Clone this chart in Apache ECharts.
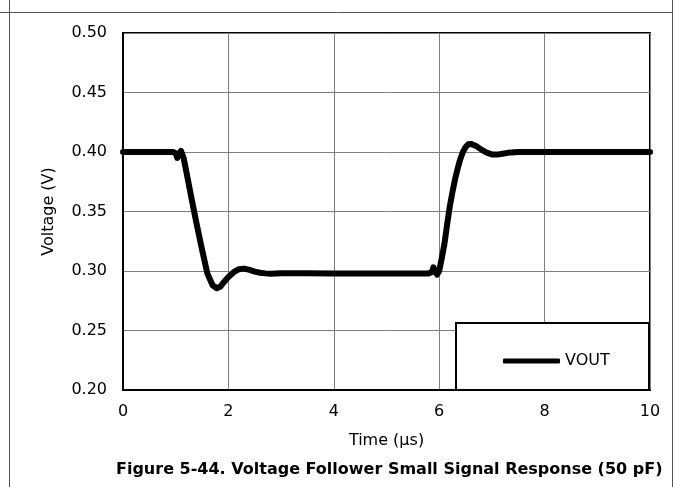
<!DOCTYPE html>
<html>
<head>
<meta charset="utf-8">
<script src="https://cdn.jsdelivr.net/npm/echarts@6/dist/echarts.min.js"></script>
<style>
html,body{margin:0;padding:0;background:#fff;}
#chart{width:678px;height:487px;}
</style>
</head>
<body>
<div id="chart"></div>
<script>
var timeUs = [0, 0.5, 0.95, 1.0, 1.03, 1.06, 1.1, 1.15, 1.2, 1.3, 1.4, 1.5, 1.6, 1.7, 1.78, 1.85, 1.92, 2.0, 2.1, 2.2, 2.3, 2.4, 2.5, 2.6, 2.7, 2.8, 3.0, 3.5, 4.0, 4.5, 5.0, 5.5, 5.8, 5.86, 5.89, 5.92, 5.96, 6.0, 6.05, 6.1, 6.15, 6.2, 6.25, 6.3, 6.35, 6.4, 6.45, 6.5, 6.55, 6.6, 6.65, 6.7, 6.8, 6.9, 7.0, 7.1, 7.2, 7.3, 7.5, 8.0, 9.0, 10];
var vout = [0.400, 0.400, 0.400, 0.399, 0.395, 0.398, 0.401, 0.395, 0.384, 0.361, 0.339, 0.318, 0.298, 0.288, 0.2855, 0.287, 0.291, 0.295, 0.299, 0.3015, 0.302, 0.301, 0.2995, 0.2985, 0.298, 0.2977, 0.2982, 0.2982, 0.298, 0.298, 0.298, 0.298, 0.298, 0.299, 0.303, 0.300, 0.297, 0.300, 0.311, 0.323, 0.339, 0.354, 0.366, 0.377, 0.386, 0.394, 0.400, 0.404, 0.4065, 0.4068, 0.406, 0.405, 0.402, 0.3995, 0.398, 0.3978, 0.3985, 0.3993, 0.400, 0.400, 0.400, 0.400];
var xTicks = [0, 2, 4, 6, 8, 10];
var yTicks = [0.20, 0.25, 0.30, 0.35, 0.40, 0.45, 0.50];
var seriesName = 'VOUT';
var xName = 'Time (\u00b5s)';
var yName = 'Voltage (V)';
var caption = 'Figure 5-44. Voltage Follower Small Signal Response (50 pF)';

var pts = timeUs.map(function (t, i) { return [t, vout[i]]; });
var font = '"DejaVu Sans", "Liberation Sans", Arial, sans-serif';

var chart = echarts.init(document.getElementById('chart'));
chart.setOption({
  animation: false,
  backgroundColor: '#fff',
  textStyle: { fontFamily: font },
  grid: { left: 123, right: 28, top: 33, bottom: 97, show: true, borderColor: '#000', borderWidth: 2, backgroundColor: 'transparent' },
  xAxis: {
    type: 'value', min: xTicks[0], max: xTicks[xTicks.length - 1], interval: 2,
    name: xName, nameLocation: 'middle', nameGap: 43,
    nameTextStyle: { fontSize: 16, color: '#000', fontFamily: font },
    axisLine: { show: true, lineStyle: { color: '#000', width: 2 } },
    axisTick: { show: false },
    axisLabel: { fontSize: 16, color: '#000', margin: 14, fontFamily: font },
    splitLine: { show: true, lineStyle: { color: '#7f7f7f', width: 1 } }
  },
  yAxis: {
    type: 'value', min: yTicks[0], max: yTicks[yTicks.length - 1], interval: 0.05,
    name: yName, nameLocation: 'middle', nameGap: 66,
    nameTextStyle: { fontSize: 16, color: '#000', fontFamily: font },
    axisLine: { show: true, lineStyle: { color: '#000', width: 2 } },
    axisTick: { show: false },
    axisLabel: { fontSize: 16, color: '#000', margin: 16, fontFamily: font, formatter: function (v) { return v.toFixed(2); } },
    splitLine: { show: true, lineStyle: { color: '#7f7f7f', width: 1 } }
  },
  legend: {
    show: true, left: 498, top: 348, z: 20, orient: 'horizontal',
    itemWidth: 57, itemHeight: 5, itemGap: 5,
    textStyle: { fontSize: 16, color: '#000', fontFamily: font },
    data: [{ name: seriesName, icon: 'roundRect', itemStyle: { color: '#000' } }]
  },
  graphic: [
    { type: 'rect', z: 10, shape: { x: 456, y: 323, width: 193, height: 67 }, style: { fill: '#fff', stroke: '#000', lineWidth: 2 } },
    { type: 'line', z: 10, shape: { x1: 0, y1: 12.5, x2: 673, y2: 12.5 }, style: { stroke: '#555', lineWidth: 1 } },
    { type: 'line', z: 10, shape: { x1: 9.5, y1: 0, x2: 9.5, y2: 487 }, style: { stroke: '#555', lineWidth: 1 } },
    { type: 'line', z: 10, shape: { x1: 672.5, y1: 0, x2: 672.5, y2: 487 }, style: { stroke: '#555', lineWidth: 1 } },
    { type: 'text', z: 10, left: 116, top: 462, style: { text: caption, fill: '#000', font: 'bold 16px ' + font } }
  ],
  series: [{
    name: seriesName, type: 'line', data: pts, showSymbol: false, symbol: 'none',
    lineStyle: { color: '#000', width: 6, cap: 'round', join: 'round' },
    itemStyle: { color: '#000' }
  }]
});
</script>
</body>
</html>
